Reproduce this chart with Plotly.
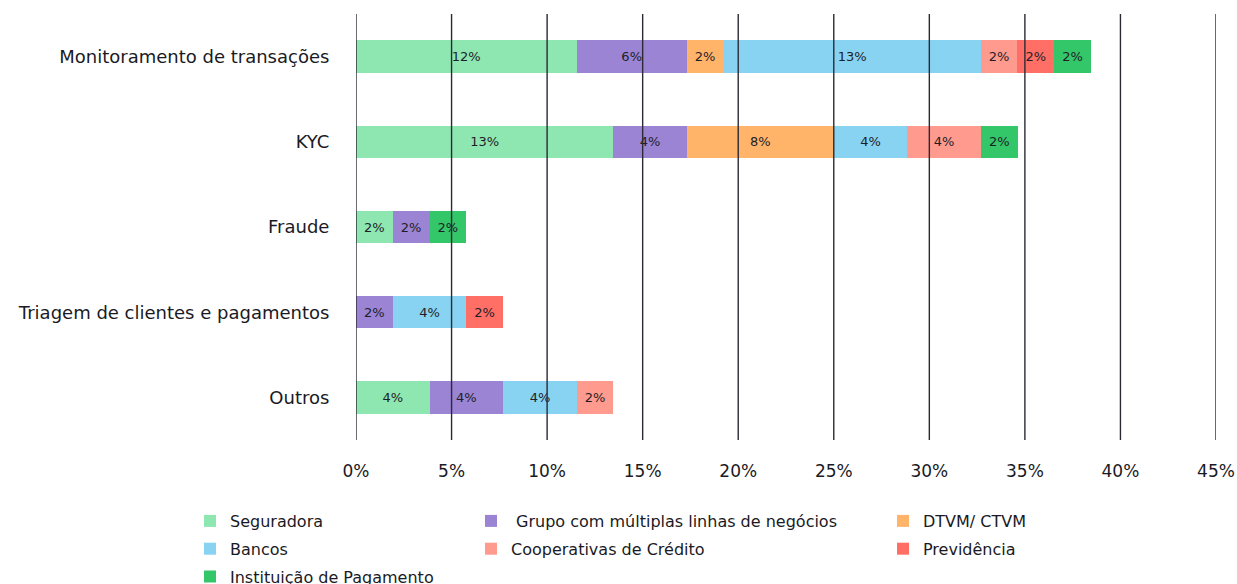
import plotly.graph_objects as go

categories = ["Monitoramento de transações", "KYC", "Fraude",
              "Triagem de clientes e pagamentos", "Outros"]

series_names = ["Seguradora", " Grupo com múltiplas linhas de negócios", "DTVM/ CTVM",
                "Bancos", "Cooperativas de Crédito", "Previdência",
                "Instituição de Pagamento"]

seguradora   = [11.54, 13.46, 1.92, 0.0, 3.85]
grupo        = [5.77, 3.85, 1.92, 1.92, 3.85]
dtvm         = [1.92, 7.69, 0.0, 0.0, 0.0]
bancos       = [13.46, 3.85, 0.0, 3.85, 3.85]
cooperativas = [1.92, 3.85, 0.0, 0.0, 1.92]
previdencia  = [1.92, 0.0, 0.0, 1.92, 0.0]
instituicao  = [1.92, 1.92, 1.92, 0.0, 0.0]

x_ticks = [0, 5, 10, 15, 20, 25, 30, 35, 40, 45]
x_tick_labels = ["0%", "5%", "10%", "15%", "20%", "25%", "30%", "35%", "40%", "45%"]

series_values = [seguradora, grupo, dtvm, bancos, cooperativas, previdencia, instituicao]
colors = ["#8EE7B0", "#9B84D4", "#FFB46A", "#88D3F1", "#FF9A8E", "#FF6F66", "#34C76A"]
legend_ids = ["legend", "legend2", "legend3", "legend", "legend2", "legend3", "legend"]

FONT = "DejaVu Sans"

fig = go.Figure()
for i, (name, vals, col, lg) in enumerate(zip(series_names, series_values, colors, legend_ids)):
    texts = [f"{v:.0f}%" if v > 0 else "" for v in vals]
    fig.add_trace(go.Bar(
        y=categories, x=vals, name=name, orientation="h",
        marker=dict(color=col, line=dict(width=0)),
        text=texts, textposition="inside", insidetextanchor="middle",
        textangle=0, constraintext="none",
        textfont=dict(family="DejaVu Sans", size=13, color="#1e1e28"),
        legend=lg, legendgroup=f"g{i}", hoverinfo="skip",
    ))

for t in x_ticks:
    fig.add_shape(type="line", xref="x", yref="paper", x0=t, x1=t, y0=0, y1=1,
                  line=dict(color="#2a2a36", width=1.4), layer="above")

FIG_W, FIG_H = 1237, 584
PLOT_L, PLOT_R, PLOT_T, PLOT_B = 356, 1216, 14, 440
PLOT_H = float(PLOT_B - PLOT_T)
PLOT_W = float(PLOT_R - PLOT_L)
def px_x(p):
    return (p - PLOT_L) / PLOT_W
def px_y(p):
    return (PLOT_B - p) / PLOT_H

legend_common = dict(orientation="v", font=dict(family=FONT, size=16, color="#1a1a24"),
                     xanchor="left", yanchor="top", tracegroupgap=4,
                     bgcolor="rgba(0,0,0,0)", traceorder="grouped", itemwidth=30)

fig.update_layout(
    width=FIG_W, height=FIG_H,
    margin=dict(l=PLOT_L, r=FIG_W - PLOT_R, t=PLOT_T, b=FIG_H - PLOT_B, autoexpand=False),
    paper_bgcolor="white", plot_bgcolor="white",
    barmode="stack", bargap=0.62,
    font=dict(family=FONT, color="#1a1a24"),
    xaxis=dict(range=[0, 45], tickmode="array", tickvals=x_ticks, ticktext=x_tick_labels,
               showgrid=False, zeroline=False, showline=False, automargin=False,
               tickfont=dict(family=FONT, size=17, color="#1a1a24"),
               ticks="outside", ticklen=16, tickcolor="rgba(0,0,0,0)"),
    yaxis=dict(categoryorder="array", categoryarray=categories[::-1],
               showgrid=False, zeroline=False, showline=False, automargin=False,
               tickfont=dict(family=FONT, size=18, color="#1a1a24"),
               ticks="outside", ticklen=22, tickcolor="rgba(0,0,0,0)"),
    legend=dict(x=px_x(190), y=px_y(504), **legend_common),
    legend2=dict(x=px_x(471), y=px_y(504), **legend_common),
    legend3=dict(x=px_x(883), y=px_y(504), **legend_common),
    showlegend=True,
)

fig.write_html("out.html", config={"displayModeBar": False},
               post_script="document.body.style.margin='0';document.body.style.overflow='hidden';")
